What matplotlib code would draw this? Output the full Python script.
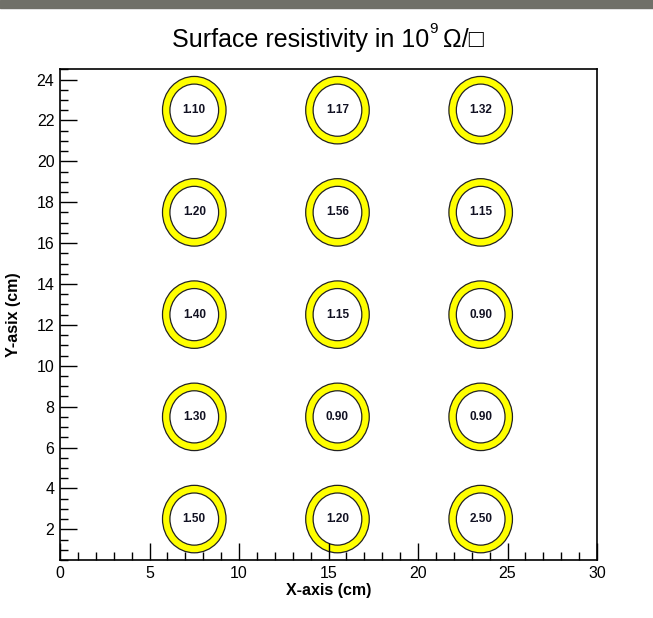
import matplotlib
matplotlib.use("Agg")
import matplotlib.pyplot as plt
from matplotlib.patches import Ellipse, Rectangle
from matplotlib.ticker import MultipleLocator

# Measurement grid (cm) and surface resistivity values (10^9 ohm/sq)
x_pos = [7.5, 15.5, 23.5]
y_pos = [22.5, 17.5, 12.5, 7.5, 2.5]
row_22 = ["1.10", "1.17", "1.32"]
row_17 = ["1.20", "1.56", "1.15"]
row_12 = ["1.40", "1.15", "0.90"]
row_7 = ["1.30", "0.90", "0.90"]
row_2 = ["1.50", "1.20", "2.50"]
values = [row_22, row_17, row_12, row_7, row_2]

FONT = ["Liberation Sans Narrow", "Liberation Sans", "DejaVu Sans"]
plt.rcParams["font.family"] = FONT

fig = plt.figure(figsize=(6.53, 6.18), dpi=100)
ax = fig.add_axes([0.0919, 0.0939, 0.8224, 0.7940])

# grey band at the top of the slide
fig.patches.append(Rectangle((0, 0.987), 1, 0.013, transform=fig.transFigure,
                             color="#707068", zorder=0))

# ring sizes in data units (axes are not equal-aspect)
W_OUT, H_OUT = 3.55, 3.30
W_IN, H_IN = 2.72, 2.55
for y, row in zip(y_pos, values):
    for x, val in zip(x_pos, row):
        ax.add_patch(Ellipse((x, y), W_OUT, H_OUT, facecolor="#ffff00", edgecolor="#222222", linewidth=0.9))
        ax.add_patch(Ellipse((x, y), W_IN, H_IN, facecolor="white", edgecolor="#222222", linewidth=0.9))
        ax.text(x, y, val, ha="center", va="center", fontsize=8.5, fontweight="bold", color="#111122")

ax.set_xlim(0, 30)
ax.set_ylim(0.5, 24.5)
ax.xaxis.set_major_locator(MultipleLocator(5))
ax.xaxis.set_minor_locator(MultipleLocator(1))
ax.yaxis.set_major_locator(MultipleLocator(2))
ax.yaxis.set_minor_locator(MultipleLocator(0.5))
ax.tick_params(which="both", direction="in", top=False, right=False, width=1.0, labelsize=11.5, pad=4)
ax.tick_params(which="major", length=12)
ax.tick_params(which="minor", length=6)
for s in ax.spines.values():
    s.set_linewidth(1.2)

ax.set_xlabel("X-axis (cm)", fontsize=11.5, fontweight="bold", labelpad=2)
ax.set_ylabel("Y-asix (cm)", fontsize=11.5, fontweight="bold")
ax.yaxis.set_label_coords(-0.072, 0.5)

# title with superscript, built from pieces and centred over the axes
fig.canvas.draw()
r = fig.canvas.get_renderer()
base = 1 - 47 / 618
t1 = fig.text(0, base, "Surface resistivity in 10", fontsize=18, ha="left", va="baseline")
t2 = fig.text(0, 1 - 33 / 618, "9", fontsize=11, ha="left", va="baseline")
t3 = fig.text(0, base, "\u03a9/\u25a1", fontsize=18, ha="left", va="baseline")
w1 = t1.get_window_extent(r).width
w2 = t2.get_window_extent(r).width
w3 = t3.get_window_extent(r).width
gap1, gap2 = 0, 6
start = 328 - (w1 + gap1 + w2 + gap2 + w3) / 2
t1.set_x(start / 653)
t2.set_x((start + w1 + gap1) / 653)
t3.set_x((start + w1 + gap1 + w2 + gap2) / 653)

fig.savefig("out.png", dpi=100)
